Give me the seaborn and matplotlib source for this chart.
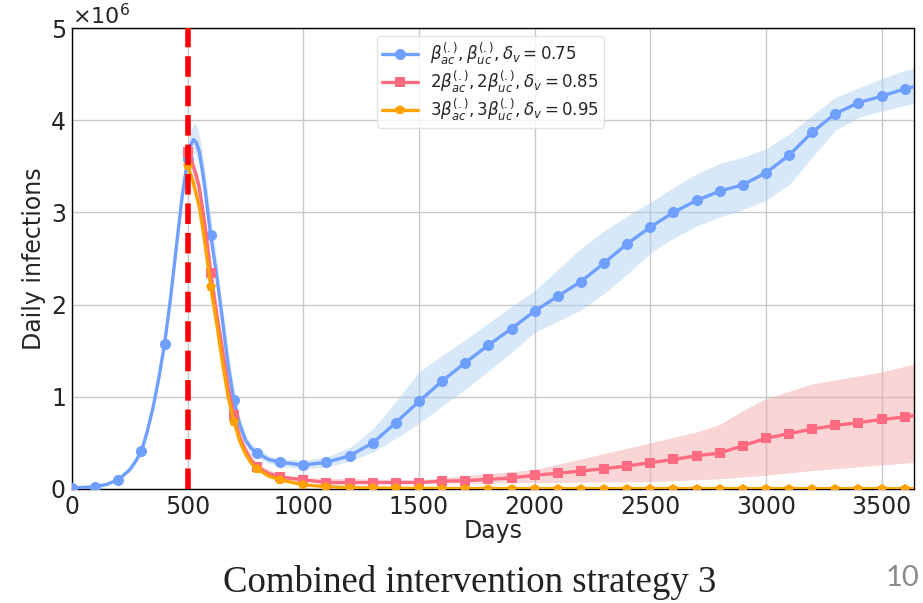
import numpy as np
import pandas as pd
import matplotlib
matplotlib.use("Agg")
import matplotlib.pyplot as plt
import seaborn as sns

# ---------------- data (values in units of 1e6 daily infections) ----------------
blue_days = [0, 100, 150, 200, 250, 275, 300, 325, 350, 375,
             400, 425, 450, 475, 500, 512, 525, 537, 550, 562,
             575, 587, 600, 625, 650, 675, 700, 725, 750, 775,
             800, 850, 900,
             1000, 1100, 1200, 1300, 1400, 1500, 1600, 1700, 1800, 1900, 2000, 2100, 2200,
             2300, 2400, 2500, 2600, 2700, 2800, 2900, 3000, 3100, 3200, 3300, 3400, 3500,
             3600, 3650]
blue_vals = [0.01, 0.025, 0.05, 0.10, 0.21, 0.30, 0.41, 0.62, 0.88, 1.20,
             1.57, 2.05, 2.60, 3.15, 3.58, 3.72, 3.79, 3.76, 3.66, 3.48,
             3.26, 3.00, 2.75, 2.32, 1.84, 1.34, 0.96, 0.70, 0.53, 0.44,
             0.39, 0.32, 0.29,
             0.26, 0.29, 0.36, 0.50, 0.72, 0.95, 1.17, 1.37, 1.56, 1.74, 1.93, 2.09, 2.25,
             2.45, 2.66, 2.84, 3.00, 3.13, 3.23, 3.30, 3.43, 3.62, 3.87, 4.07, 4.19, 4.26,
             4.34, 4.37]
blue_low = [0.0, 0.02, 0.045, 0.09, 0.19, 0.28, 0.38, 0.58, 0.84, 1.15,
            1.51, 1.98, 2.52, 3.06, 3.48, 3.60, 3.65, 3.62, 3.50, 3.32,
            3.10, 2.85, 2.62, 2.20, 1.72, 1.24, 0.88, 0.64, 0.48, 0.40,
            0.35, 0.28, 0.25,
            0.22, 0.24, 0.30, 0.40, 0.55, 0.71, 0.90, 1.08, 1.28, 1.48, 1.70, 1.82, 1.94,
            2.12, 2.33, 2.56, 2.72, 2.85, 2.95, 3.03, 3.13, 3.30, 3.60, 3.89, 4.03, 4.10,
            4.16, 4.19]
blue_high = [0.02, 0.03, 0.055, 0.11, 0.23, 0.32, 0.44, 0.66, 0.93, 1.26,
             1.63, 2.12, 2.70, 3.27, 3.72, 3.88, 3.96, 3.95, 3.85, 3.68,
             3.45, 3.20, 2.95, 2.50, 2.00, 1.50, 1.08, 0.78, 0.60, 0.49,
             0.44, 0.36, 0.33,
             0.31, 0.35, 0.45, 0.65, 0.95, 1.27, 1.45, 1.62, 1.80, 1.98, 2.15, 2.38, 2.61,
             2.80, 2.96, 3.11, 3.27, 3.42, 3.53, 3.60, 3.69, 3.85, 4.05, 4.25, 4.35, 4.45,
             4.54, 4.57]

pink_days = [500, 512, 525, 537, 550, 562, 575, 587, 600, 625, 650, 675, 700, 725, 750, 775,
             800, 850, 900, 1000, 1100, 1200,
             1300, 1400, 1500, 1600, 1700, 1800, 1900, 2000, 2100, 2200, 2300, 2400, 2500,
             2600, 2700, 2800, 2900, 3000, 3100, 3200, 3300, 3400, 3500, 3600, 3650]
pink_vals = [3.66, 3.60, 3.50, 3.40, 3.27, 3.08, 2.86, 2.62, 2.34, 1.90, 1.52, 1.10, 0.80, 0.56, 0.42, 0.31,
             0.24, 0.17, 0.13, 0.10, 0.07, 0.07,
             0.07, 0.07, 0.07, 0.085, 0.09, 0.105, 0.12, 0.15, 0.17, 0.195, 0.22, 0.25, 0.285,
             0.32, 0.36, 0.39, 0.47, 0.55, 0.60, 0.65, 0.69, 0.72, 0.755, 0.78, 0.80]
pink_band_days = [500, 550, 600, 650, 700, 750, 800, 900, 1000, 1500, 2000, 2500, 2700, 2800,
                  2900, 3000, 3200, 3500, 3650]
pink_low = [3.60, 3.20, 2.25, 1.42, 0.74, 0.38, 0.21, 0.11, 0.08, 0.06, 0.07, 0.08, 0.10, 0.11,
            0.13, 0.15, 0.20, 0.26, 0.29]
pink_high = [3.72, 3.36, 2.45, 1.62, 0.86, 0.47, 0.27, 0.15, 0.12, 0.10, 0.21, 0.50, 0.62, 0.70,
             0.85, 0.98, 1.14, 1.27, 1.36]

orange_days = [500, 512, 525, 537, 550, 562, 575, 587, 600, 625, 650, 675, 700, 725, 750, 775,
               800, 850, 900, 1000, 1100, 1200,
               1300, 1400, 1500, 1600, 1700, 1800, 1900, 2000, 2100, 2200, 2300, 2400, 2500,
               2600, 2700, 2800, 2900, 3000, 3100, 3200, 3300, 3400, 3500, 3600, 3650]
orange_vals = [3.50, 3.42, 3.32, 3.20, 3.06, 2.88, 2.66, 2.44, 2.19, 1.80, 1.38, 1.00, 0.73, 0.52, 0.38, 0.28,
               0.22, 0.14, 0.10, 0.045, 0.025, 0.015,
               0.01, 0.008, 0.006, 0.005, 0.004, 0.004, 0.003, 0.003, 0.003, 0.003, 0.003, 0.003, 0.003,
               0.003, 0.003, 0.003, 0.003, 0.003, 0.003, 0.003, 0.003, 0.003, 0.003, 0.003, 0.003]
orange_band_days = [500, 550, 600, 650, 700, 750, 800, 900, 1000, 1200, 3650]
orange_low = [3.44, 2.99, 2.12, 1.32, 0.69, 0.35, 0.20, 0.09, 0.04, 0.012, 0.0]
orange_high = [3.56, 3.13, 2.26, 1.44, 0.77, 0.41, 0.24, 0.11, 0.05, 0.018, 0.006]

labels = [r'$\beta_{ac}^{(.)}, \beta_{uc}^{(.)}, \delta_v = 0.75$',
          r'$2\beta_{ac}^{(.)}, 2\beta_{uc}^{(.)}, \delta_v = 0.85$',
          r'$3\beta_{ac}^{(.)}, 3\beta_{uc}^{(.)}, \delta_v = 0.95$']
intervention_day = 500
xticks = [0, 500, 1000, 1500, 2000, 2500, 3000, 3500]
yticks = [0, 1, 2, 3, 4, 5]

# ---------------- style ----------------
sns.set_theme(style="whitegrid")
plt.rcParams['font.family'] = ['DejaVu Sans']
plt.rcParams['mathtext.fontset'] = 'dejavusans'

fig = plt.figure(figsize=(9.23, 6.03), dpi=100)
ax = fig.add_axes([72 / 923, 1 - 489 / 603, 842 / 923, 461 / 603])

c_blue = '#6fa0ff'
c_pink = '#ff6b81'
c_orange = '#ffa200'

def mark_mask(days):
    return [d % 100 == 0 and d <= 3600 for d in days]

M = 1e6
ax.fill_between(np.array(blue_days), np.array(blue_low) * M, np.array(blue_high) * M,
                color='#a8cff0', alpha=0.45, lw=0, zorder=1)
ax.fill_between(np.array(pink_band_days), np.array(pink_low) * M, np.array(pink_high) * M,
                color='#f2a3a3', alpha=0.45, lw=0, zorder=1)
ax.fill_between(np.array(orange_band_days), np.array(orange_low) * M, np.array(orange_high) * M,
                color='#ffd27f', alpha=0.5, lw=0, zorder=1)

series = [
    (blue_days, blue_vals, c_blue, 'o', 8, labels[0]),
    (pink_days, pink_vals, c_pink, 's', 7.5, labels[1]),
    (orange_days, orange_vals, c_orange, 'p', 7, labels[2]),
]
for days, vals, col, mk, ms, lab in series:
    df = pd.DataFrame({'Days': days, 'val': np.array(vals) * M})
    sns.lineplot(data=df, x='Days', y='val', ax=ax, color=col, lw=2.4, marker=mk,
                 markersize=ms, markeredgewidth=0, markevery=mark_mask(days),
                 label=lab, zorder=3, estimator=None, sort=False)

ax.axvline(intervention_day, color='#ff0000', lw=4, ls='--', zorder=4)

ax.set_xlim(0, 3640)
ax.set_ylim(0, 5e6)
ax.set_xticks(xticks)
ax.set_yticks([v * M for v in yticks])
ax.ticklabel_format(axis='y', style='sci', scilimits=(6, 6), useMathText=True)
ax.yaxis.get_offset_text().set_fontsize(16)
ax.tick_params(axis='both', labelsize=17, length=3, color='black', pad=1.5)
ax.set_xlabel('Days', fontsize=17, labelpad=0)
ax.set_ylabel('Daily infections', fontsize=17, labelpad=3)
for s in ax.spines.values():
    s.set_color('black')
    s.set_linewidth(1.0)
ax.grid(True, color='#c8c8c8', lw=1.0)
ax.set_facecolor('white')

leg = ax.legend(loc='upper left', bbox_to_anchor=(0.362, 0.983), borderaxespad=0,
                fontsize=12, frameon=True, framealpha=0.8, edgecolor='#dddddd',
                handlelength=2.2, borderpad=0.3, labelspacing=0.1, handletextpad=0.7)

fig.text(470 / 923, 1 - 583 / 603, 'Combined intervention strategy 3', ha='center', va='center',
         fontsize=26.5, family=['Liberation Serif'], color='#222222')
fig.text(903 / 923, 1 - 578 / 603, '10', ha='center', va='center', fontsize=21,
         family=['Lato'], color='#8a8a8a')

fig.savefig('out.png', dpi=100)
